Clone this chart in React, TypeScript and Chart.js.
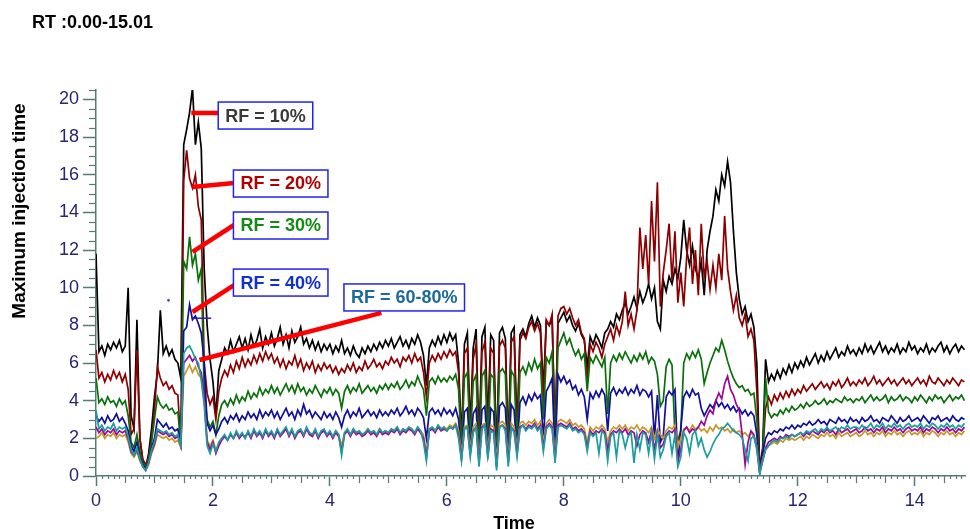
import React, { useEffect, useRef } from "react";
import { Chart, registerables } from "chart.js";
Chart.register(...registerables);

const TITLE = "RT :0.00-15.01";
const Y_TITLE = "Maximum injection time";
const X_TITLE = "Time";
const TIME_STEP = 0.05;
const X_TICKS = [0, 2, 4, 6, 8, 10, 12, 14];
const Y_TICKS = [0, 2, 4, 6, 8, 10, 12, 14, 16, 18, 20];

const RF10 = [
  11.8,6.6,6.9,6.4,7.0,6.7,7.1,6.8,7.2,6.6,6.9,10.0,3.2,2.5,8.3,2.0,0.8,0.4,1.2,2.5,
  4.2,5.5,8.8,6.5,6.9,6.4,6.7,6.2,6.0,5.2,17.6,18.4,19.3,20.6,17.6,18.8,17.4,11.0,8.0,6.2,
  5.0,3.2,5.6,6.2,6.8,6.5,7.2,6.6,7.0,7.4,6.8,7.3,6.7,7.5,6.9,7.2,7.8,6.8,7.4,7.0,
  7.6,6.9,7.3,7.9,7.0,7.5,6.8,7.7,7.1,7.4,7.9,7.0,7.3,6.8,7.2,6.7,7.1,6.6,7.0,6.7,
  7.0,6.5,6.9,6.6,7.2,6.5,6.8,6.4,6.9,6.5,6.3,6.8,6.5,6.9,6.6,7.0,6.7,7.1,6.8,7.2,
  6.9,7.3,6.8,7.1,7.4,6.9,7.2,6.8,7.3,7.0,7.5,7.1,6.4,4.8,6.8,7.2,6.9,7.4,7.0,7.5,
  7.1,7.6,7.2,7.5,6.0,1.8,7.0,7.6,2.5,6.8,7.8,1.6,7.4,7.9,2.8,7.5,7.2,1.2,7.6,7.9,
  7.3,1.5,7.6,7.9,2.2,7.5,7.8,7.4,8.1,8.5,7.9,8.4,8.0,4.5,8.2,8.0,8.3,2.0,8.1,8.4,
  8.7,8.2,8.5,8.0,7.7,8.1,7.5,7.2,5.8,7.4,7.0,7.5,7.2,6.8,7.6,7.8,8.2,7.9,8.6,8.3,
  8.8,9.2,8.6,9.0,9.5,8.9,9.8,9.2,9.6,10.2,9.4,10.0,8.2,7.8,10.4,9.8,10.6,10.2,11.0,10.5,
  11.6,13.6,12.0,11.2,12.2,11.0,10.5,11.4,9.6,12.0,13.0,13.8,15.2,14.6,16.0,15.4,16.7,15.6,13.0,10.8,
  9.4,8.6,9.0,8.2,8.6,7.9,6.0,0.3,1.5,6.2,5.0,5.4,5.1,5.6,5.2,5.7,5.4,5.9,5.5,6.0,
  5.7,6.1,5.8,6.3,5.9,6.2,6.5,6.0,6.4,6.1,6.6,6.2,6.5,6.8,6.3,6.6,6.4,6.9,6.5,6.7,
  6.4,6.8,6.5,7.0,6.6,6.9,6.5,6.8,7.1,6.6,6.9,6.5,6.8,6.6,7.0,6.5,6.8,6.6,7.1,6.7,
  6.9,6.5,6.8,6.6,7.0,6.5,6.8,6.6,6.9,7.1,6.6,6.9,6.5,6.8,7.0,6.6,6.9,6.7,
];

const RF20 = [
  6.7,5.2,5.5,5.0,5.4,5.1,5.6,5.2,5.5,5.0,5.4,4.6,2.2,2.5,6.7,2.0,0.9,0.6,1.0,2.0,
  3.5,5.8,5.2,4.8,5.0,4.6,4.8,4.4,4.3,1.7,15.7,17.3,15.8,15.3,16.0,14.3,13.6,6.0,4.4,3.8,
  4.2,3.0,4.5,5.2,5.6,5.3,5.9,5.5,6.1,5.7,6.3,5.8,6.2,5.9,6.4,6.0,6.5,6.1,6.6,6.2,
  6.5,6.0,6.3,5.8,6.2,5.7,6.1,5.9,6.4,5.8,6.2,5.6,6.0,5.7,6.1,5.5,5.9,5.6,6.0,5.7,
  5.9,5.5,5.8,5.4,5.7,5.5,5.9,5.6,6.0,5.5,5.8,5.6,6.1,5.7,5.9,6.2,5.8,6.0,5.7,6.1,
  5.9,6.3,6.0,6.2,5.8,6.3,6.1,6.4,6.0,6.5,6.1,6.3,5.5,4.2,6.0,6.4,6.1,6.5,6.2,6.6,
  6.3,6.7,6.4,6.6,5.5,1.4,6.5,6.8,2.0,6.2,7.0,1.2,6.6,7.1,2.2,6.8,6.5,0.9,6.9,7.2,
  6.8,1.2,7.1,7.4,1.8,7.2,7.6,7.3,7.9,8.2,7.7,8.1,7.6,3.8,8.3,8.0,8.6,1.6,8.5,8.9,
  9.0,8.6,8.9,8.4,8.0,8.3,7.6,7.3,5.0,7.0,6.6,7.1,6.8,6.3,7.0,7.4,7.8,7.2,8.0,7.5,
  8.2,9.8,8.0,8.6,7.8,8.8,13.2,11.0,12.8,10.2,14.6,11.4,15.6,9.0,10.8,12.0,13.4,10.4,13.0,9.2,
  10.8,9.0,11.6,13.2,10.2,12.0,9.6,13.4,10.6,11.4,9.9,11.2,10.0,11.8,10.4,13.8,11.0,9.8,8.8,9.6,
  8.4,8.0,8.6,7.4,7.8,7.2,4.5,0.4,1.2,3.6,4.2,3.8,4.3,4.0,4.4,4.1,4.5,4.2,4.6,4.3,
  4.6,4.4,4.8,4.5,4.7,4.9,4.6,4.8,5.0,4.7,4.9,4.6,5.0,4.8,5.1,4.7,4.9,5.2,4.8,5.0,
  4.8,5.1,4.9,5.2,4.8,5.0,5.3,4.9,5.1,4.8,5.0,5.2,4.9,5.1,4.8,5.0,5.2,4.9,5.1,4.8,
  5.0,5.2,4.9,5.1,4.8,5.3,5.0,4.9,5.2,5.0,4.8,5.1,4.9,5.2,5.0,4.8,5.1,5.0,
];

const RF30 = [
  5.2,3.9,4.1,3.8,4.2,3.9,4.0,3.7,4.1,3.8,4.0,3.2,1.8,1.5,2.2,1.3,0.7,0.5,0.9,1.8,
  3.0,4.2,3.8,3.6,3.8,3.5,3.6,3.3,3.4,1.7,11.4,11.0,12.7,11.2,11.8,10.4,11.0,4.5,3.0,2.6,
  2.9,2.2,3.2,3.8,4.0,3.7,4.1,3.8,4.3,3.9,4.2,4.0,4.5,4.1,4.4,4.2,4.7,4.3,4.6,4.4,
  4.8,4.4,4.7,4.3,4.6,4.9,4.5,4.8,4.4,4.9,4.5,4.7,4.3,4.6,4.4,4.8,4.5,4.2,4.6,4.4,
  4.7,4.3,4.6,4.4,3.6,4.5,4.8,4.4,4.7,4.5,4.9,4.4,4.6,4.8,4.5,4.7,4.4,4.8,4.6,4.9,
  4.6,4.9,4.7,5.0,4.6,4.8,5.1,4.7,5.0,4.8,5.3,4.9,4.6,3.2,5.0,5.2,4.9,5.3,5.0,5.2,
  5.0,5.3,5.1,5.4,4.6,1.3,5.2,5.5,1.8,5.0,5.4,1.0,5.3,5.6,1.9,5.4,5.2,0.8,5.5,5.7,
  5.4,1.0,5.6,5.3,1.6,5.5,5.8,5.4,6.0,5.6,6.2,5.7,6.0,3.0,6.3,6.0,6.6,1.5,6.8,7.2,
  7.6,7.0,7.3,6.8,6.4,6.7,6.2,6.5,4.5,6.3,6.0,6.4,6.1,5.8,6.3,3.3,6.0,6.4,6.1,6.5,
  6.2,6.6,6.3,6.0,6.4,6.1,6.5,6.2,6.6,6.0,6.3,6.1,5.4,3.7,4.0,5.8,6.2,5.9,2.2,1.9,
  2.4,6.0,6.5,6.2,6.6,6.3,6.7,6.2,4.9,5.5,6.0,6.4,6.8,6.6,7.2,6.7,6.1,5.6,5.2,4.9,
  4.7,4.8,4.5,4.6,4.3,4.4,3.0,0.3,1.0,5.2,3.4,3.1,3.3,3.2,3.5,3.3,3.6,3.4,3.7,3.5,
  3.6,3.8,3.6,3.9,3.7,3.8,4.0,3.8,3.9,4.1,3.8,4.0,3.9,4.1,4.0,3.9,4.2,4.0,4.1,3.9,
  4.1,4.0,4.2,3.9,4.1,4.3,4.0,4.2,4.0,4.1,4.3,3.9,4.2,4.0,4.1,4.3,4.0,4.2,4.1,3.9,
  4.2,4.0,4.3,4.1,3.9,4.2,4.0,4.3,4.1,4.2,3.9,4.1,4.3,4.0,4.2,4.1,4.3,4.0,
];

const RF40 = [
  3.2,2.9,3.1,2.8,3.2,2.9,3.0,3.3,2.9,3.1,2.8,2.4,1.6,1.3,1.8,1.0,0.6,0.4,0.8,1.5,
  2.0,3.0,2.8,2.6,2.8,2.5,2.6,2.4,2.5,1.6,7.7,7.9,9.1,8.3,8.5,8.1,7.6,6.0,2.8,2.4,
  2.7,2.2,2.5,2.9,3.1,2.8,3.2,3.0,3.3,2.9,3.2,3.0,3.4,3.1,3.3,3.0,3.5,3.1,3.4,3.2,
  3.5,3.1,3.4,3.0,3.3,3.6,3.2,3.4,3.0,3.5,3.2,3.8,3.3,3.5,3.1,3.4,3.2,3.0,3.4,3.1,
  3.3,3.0,3.4,3.1,2.6,3.2,3.5,3.1,3.4,3.2,3.6,3.1,3.3,3.5,3.2,3.4,3.1,3.5,3.2,3.4,
  3.2,3.5,3.3,3.6,3.2,3.4,3.7,3.3,3.5,3.2,3.6,3.4,3.1,2.0,3.4,3.6,3.3,3.5,3.2,3.6,
  3.3,3.5,3.2,3.6,3.0,1.0,3.4,3.6,1.3,3.3,3.6,0.8,3.5,3.7,1.2,3.6,3.4,0.5,3.7,3.9,
  3.6,0.8,3.8,3.5,1.2,3.9,4.2,3.8,4.3,4.0,4.4,4.1,4.3,2.0,4.5,4.8,5.2,1.0,5.4,5.0,
  5.3,4.9,5.1,4.6,4.8,4.3,4.6,4.2,3.0,4.4,4.1,4.5,4.2,4.6,4.3,2.4,4.4,4.7,4.3,4.6,
  4.4,4.7,4.3,4.6,4.4,4.8,4.3,4.6,4.5,4.2,4.5,2.0,4.3,1.8,2.1,4.2,4.5,4.3,4.6,0.7,
  2.5,4.2,4.5,4.2,4.6,4.3,4.4,3.6,3.2,3.5,3.8,3.6,4.0,3.7,3.9,3.6,3.8,3.5,3.7,3.4,
  3.6,3.3,3.5,3.2,3.4,3.2,2.2,0.2,1.2,2.0,2.3,2.2,2.4,2.3,2.5,2.4,2.6,2.5,2.7,2.5,
  2.7,2.6,2.8,2.7,2.9,2.7,2.8,3.0,2.8,2.9,2.7,3.0,2.9,2.8,3.1,2.9,3.0,2.8,3.1,2.9,
  3.0,2.8,3.1,2.9,3.0,3.2,2.9,3.0,2.8,3.1,3.0,2.9,3.2,3.0,2.8,3.1,2.9,3.0,3.2,2.9,
  3.0,3.1,2.9,3.2,3.0,2.8,3.1,3.0,3.2,2.9,3.0,3.1,2.9,3.2,3.0,2.9,3.1,3.0,
];

const RF60 = [
  2.0,2.1,2.3,2.0,2.2,2.1,2.3,2.0,2.2,2.1,2.2,1.8,1.2,1.0,1.3,0.8,0.5,0.3,0.6,1.2,
  1.6,2.2,2.1,2.0,2.1,1.9,2.0,1.8,1.9,1.5,5.3,5.6,5.9,5.5,5.8,5.4,5.2,4.0,1.9,1.6,
  1.9,1.4,1.7,2.0,2.1,1.9,2.2,2.0,2.3,2.1,2.2,2.0,2.3,2.1,2.4,2.2,2.3,2.1,2.4,2.2,
  2.3,2.1,2.4,2.2,2.3,2.5,2.2,2.4,2.1,2.3,2.4,2.2,2.5,2.3,2.2,2.4,2.1,2.3,2.4,2.2,
  2.3,2.1,2.4,2.2,1.6,2.3,2.4,2.2,2.5,2.3,2.4,2.2,2.3,2.5,2.3,2.4,2.2,2.5,2.3,2.4,
  2.3,2.5,2.4,2.6,2.3,2.5,2.4,2.6,2.5,2.3,2.6,2.4,2.2,1.2,2.5,2.6,2.4,2.7,2.5,2.6,
  2.5,2.7,2.6,2.8,2.4,1.2,2.6,2.7,1.5,2.6,2.8,1.0,2.7,2.8,1.4,2.7,2.6,0.8,2.8,2.9,
  2.7,1.0,2.8,2.6,1.5,2.8,2.9,2.7,2.9,2.8,3.0,2.7,2.9,1.8,2.8,3.0,2.8,1.2,2.9,3.0,
  2.9,2.8,3.0,2.7,2.8,2.6,2.7,2.5,1.8,2.6,2.4,2.6,2.5,2.7,2.5,1.8,2.4,2.6,2.5,2.7,
  2.5,2.7,2.4,2.6,2.5,2.7,2.4,2.6,2.5,2.3,2.6,2.0,2.5,2.2,2.0,2.4,2.6,2.5,2.7,1.5,
  2.0,2.5,2.6,2.4,2.7,2.5,2.6,2.4,2.5,2.3,2.6,2.4,2.7,2.5,2.6,2.4,2.5,2.3,2.5,2.3,
  2.4,2.2,2.3,2.1,2.3,2.1,1.6,0.2,0.9,1.4,1.6,1.7,1.8,1.7,1.9,1.8,2.0,1.9,2.0,1.9,
  2.0,2.1,1.9,2.1,2.0,2.2,2.1,2.0,2.2,2.1,2.3,2.1,2.2,2.0,2.3,2.1,2.2,2.3,2.1,2.2,
  2.3,2.1,2.2,2.4,2.2,2.3,2.1,2.3,2.2,2.4,2.1,2.3,2.2,2.4,2.2,2.3,2.1,2.3,2.4,2.2,
  2.3,2.2,2.4,2.1,2.3,2.2,2.4,2.3,2.1,2.3,2.2,2.4,2.2,2.3,2.1,2.3,2.2,2.4,
];

const RF70 = [
  2.6,2.3,2.5,2.2,2.4,2.3,2.5,2.2,2.4,2.3,2.4,2.0,1.3,1.1,1.4,0.9,0.5,0.3,0.7,1.3,
  1.7,2.4,2.3,2.2,2.3,2.1,2.2,2.0,2.1,1.6,6.0,6.2,6.4,6.1,6.3,5.8,5.5,4.2,1.8,1.4,
  1.8,1.2,1.6,1.9,2.1,1.9,2.2,2.0,2.3,2.0,2.2,2.1,2.3,2.0,2.4,2.1,2.3,2.0,2.4,2.1,
  2.3,2.0,2.4,2.1,2.3,2.5,2.1,2.4,2.0,2.3,2.4,2.1,2.5,2.2,2.1,2.4,2.0,2.3,2.4,2.1,
  2.3,2.0,2.3,2.1,1.3,2.2,2.4,2.1,2.4,2.2,2.3,2.1,2.2,2.4,2.2,2.3,2.1,2.4,2.2,2.3,
  2.2,2.4,2.3,2.5,2.2,2.4,2.3,2.5,2.4,2.2,2.5,2.3,2.0,1.0,2.4,2.5,2.3,2.6,2.4,2.5,
  2.4,2.6,2.5,2.7,2.2,0.9,2.5,2.6,1.2,2.4,2.6,0.7,2.6,2.7,1.1,2.5,2.4,0.5,2.6,2.7,
  2.5,0.7,2.6,2.4,1.2,2.6,2.7,2.5,2.7,2.6,2.8,2.5,2.7,1.5,2.6,2.8,2.6,0.9,2.7,2.8,
  2.7,2.6,2.8,2.5,2.6,2.4,2.5,2.3,1.5,2.4,2.2,2.4,2.3,2.5,2.3,1.4,2.2,2.4,2.3,2.5,
  2.3,2.5,2.2,2.4,2.3,1.6,2.2,2.4,2.3,1.8,2.4,1.4,2.3,1.5,1.7,2.2,2.4,2.3,2.5,0.8,
  1.4,2.4,2.6,2.3,2.5,2.4,2.6,2.9,2.7,3.2,3.5,3.3,4.0,4.4,4.1,4.9,5.3,4.6,4.3,3.8,
  3.5,2.2,0.6,1.8,2.4,2.2,1.5,0.2,0.8,1.5,1.8,1.9,2.0,1.9,2.1,2.0,2.2,2.1,2.2,2.1,
  2.2,2.3,2.1,2.3,2.2,2.4,2.3,2.2,2.4,2.3,2.5,2.3,2.4,2.2,2.5,2.3,2.4,2.5,2.3,2.4,
  2.5,2.3,2.4,2.6,2.4,2.5,2.3,2.5,2.4,2.6,2.3,2.5,2.4,2.6,2.4,2.5,2.3,2.5,2.6,2.4,
  2.5,2.4,2.6,2.3,2.5,2.4,2.6,2.5,2.3,2.5,2.4,2.6,2.4,2.5,2.3,2.5,2.4,2.6,
];

const RF80 = [
  3.5,2.5,2.7,2.4,2.6,2.5,2.8,2.4,2.6,2.5,2.6,2.1,1.4,1.1,1.5,0.9,0.5,0.3,0.7,1.4,
  1.8,2.5,2.4,2.3,2.4,2.2,2.3,2.1,2.2,1.6,6.5,6.8,6.9,6.6,6.2,6.0,5.1,3.8,1.6,1.2,
  1.7,1.3,1.8,2.0,2.2,1.9,2.3,2.0,2.4,2.1,2.3,2.0,2.4,2.1,2.5,2.2,2.4,2.1,2.5,2.2,
  2.4,2.1,2.5,2.2,2.4,2.6,2.2,2.5,2.1,2.4,2.5,2.2,2.6,2.3,2.2,2.5,2.1,2.4,2.5,2.2,
  2.4,2.1,2.4,2.2,1.1,2.3,2.5,2.2,2.5,2.3,2.4,2.2,2.3,2.5,2.3,2.4,2.2,2.5,2.3,2.4,
  2.3,2.5,2.4,2.6,2.3,2.5,2.4,2.6,2.5,2.3,2.6,2.4,1.8,0.8,2.5,2.6,2.4,2.7,2.5,2.6,
  2.4,2.6,2.5,2.7,2.0,0.8,2.5,2.6,1.0,2.3,2.6,0.5,2.5,2.7,0.9,2.4,2.3,0.3,2.6,2.7,
  2.4,0.5,2.6,2.3,1.0,2.5,2.7,2.4,2.6,2.5,2.7,2.4,2.6,1.3,2.5,2.7,2.5,0.7,2.6,2.7,
  2.6,2.5,2.7,2.4,2.5,2.3,2.4,2.2,1.3,2.3,2.1,2.3,1.2,2.4,2.2,0.8,2.1,2.3,1.0,2.4,
  2.2,1.5,2.1,2.3,0.7,2.2,1.4,2.3,2.2,1.2,2.3,0.9,2.2,1.0,1.4,2.1,2.3,1.2,2.2,0.5,
  1.0,2.3,2.0,1.2,2.2,2.4,1.6,2.0,1.4,1.0,1.3,1.7,2.0,2.2,2.5,2.6,2.8,2.6,2.4,2.3,
  2.2,2.0,1.4,0.8,2.0,2.1,1.4,0.1,0.8,1.4,1.6,1.8,1.9,1.8,2.0,2.0,2.1,2.0,2.2,2.1,
  2.2,2.3,2.2,2.4,2.3,2.4,2.5,2.3,2.5,2.4,2.6,2.4,2.5,2.6,2.4,2.6,2.5,2.7,2.5,2.6,
  2.6,2.5,2.7,2.5,2.6,2.8,2.5,2.7,2.6,2.8,2.5,2.7,2.6,2.8,2.6,2.7,2.5,2.7,2.8,2.6,
  2.7,2.6,2.8,2.5,2.7,2.6,2.8,2.7,2.5,2.7,2.6,2.8,2.6,2.7,2.5,2.7,2.6,2.8,
];

// small stray blue marks near the RF = 40% peak
const MARK_X = [1.63, 1.97];
const MARK_Y = [8.38, 8.38];
const DOT_X = [1.24];
const DOT_Y = [9.33];

const SERIES = [
  { name: "RF 10%", values: RF10, color: "#000000", order: 7 },
  { name: "RF 20%", values: RF20, color: "#8e0000", order: 6 },
  { name: "RF 30%", values: RF30, color: "#0a700a", order: 5 },
  { name: "RF 40%", values: RF40, color: "#10109a", order: 4 },
  { name: "RF 60%", values: RF60, color: "#c9962a", order: 3 },
  { name: "RF 70%", values: RF70, color: "#9a089a", order: 2 },
  { name: "RF 80%", values: RF80, color: "#1c9c9c", order: 1 },
];

const ANNOTATIONS = [
  { text: "RF = 10%", color: "#3a3a3a", from: [1.63, 19.28], to: [2.14, 19.28], box: [2.09, 19.86] },
  { text: "RF = 20%", color: "#b00000", from: [1.65, 15.35], to: [2.36, 15.56], box: [2.35, 16.25] },
  { text: "RF = 30%", color: "#148a14", from: [1.65, 11.9], to: [2.36, 13.33], box: [2.35, 14.02] },
  { text: "RF = 40%", color: "#1030d0", from: [1.65, 8.71], to: [2.36, 10.14], box: [2.35, 10.99] },
  { text: "RF = 60-80%", color: "#1a6a9e", from: [1.77, 6.16], to: [4.88, 8.66], box: [4.24, 10.2] },
];

const AXIS_COLOR = "#557a78";
const TICK_TEXT = "#262673";
const FONT = "'Liberation Sans', Arial, sans-serif";

const decorPlugin = {
  id: "decor",
  afterDatasetsDraw(chart: any) {
    const { ctx, scales } = chart;
    const xs = scales.x, ys = scales.y;
    ctx.save();
    ctx.strokeStyle = "#ff0000";
    ctx.lineWidth = 4.5;
    ctx.lineCap = "butt";
    for (const a of ANNOTATIONS) {
      ctx.beginPath();
      ctx.moveTo(xs.getPixelForValue(a.from[0]), ys.getPixelForValue(a.from[1]));
      ctx.lineTo(xs.getPixelForValue(a.to[0]), ys.getPixelForValue(a.to[1]));
      ctx.stroke();
    }
    ctx.font = `bold 18px ${FONT}`;
    for (const a of ANNOTATIONS) {
      const bx = xs.getPixelForValue(a.box[0]);
      const by = ys.getPixelForValue(a.box[1]);
      const w = ctx.measureText(a.text).width + 14;
      const h = 27;
      ctx.fillStyle = "#ffffff";
      ctx.fillRect(bx, by, w, h);
      ctx.strokeStyle = "#2222ee";
      ctx.lineWidth = 1.5;
      ctx.strokeRect(bx, by, w, h);
      ctx.fillStyle = a.color;
      ctx.textBaseline = "middle";
      ctx.textAlign = "left";
      ctx.fillText(a.text, bx + 7, by + h / 2 + 1);
    }
    ctx.restore();
  },
  afterDraw(chart: any) {
    const { ctx, scales, chartArea } = chart;
    const xs = scales.x, ys = scales.y;
    ctx.save();
    ctx.strokeStyle = AXIS_COLOR;
    ctx.lineWidth = 1.2;
    for (let k = 0; k * 0.5 <= ys.max + 1e-9; k++) {
      if (k % 4 === 0) continue;
      const y = Math.round(ys.getPixelForValue(k * 0.5)) + 0.5;
      ctx.beginPath();
      ctx.moveTo(chartArea.left - 7, y);
      ctx.lineTo(chartArea.left, y);
      ctx.stroke();
    }
    for (let k = 0; k * 0.1 <= xs.max + 1e-9; k++) {
      if (k % 20 === 0) continue;
      const len = k % 5 === 0 ? 7 : 3;
      const x = Math.round(xs.getPixelForValue(k * 0.1)) + 0.5;
      ctx.beginPath();
      ctx.moveTo(x, chartArea.bottom);
      ctx.lineTo(x, chartArea.bottom + len);
      ctx.stroke();
    }
    ctx.fillStyle = "#000000";
    ctx.font = `bold 18px ${FONT}`;
    ctx.textAlign = "left";
    ctx.textBaseline = "alphabetic";
    ctx.fillText(TITLE, 32, 28);
    ctx.textAlign = "center";
    ctx.fillText(X_TITLE, 514, 529);
    ctx.translate(25, 211);
    ctx.rotate(-Math.PI / 2);
    ctx.font = `bold 19px ${FONT}`;
    ctx.fillText(Y_TITLE, 0, 0);
    ctx.restore();
  },
};

export default function App() {
  const ref = useRef<HTMLCanvasElement>(null);
  useEffect(() => {
    if (!ref.current) return;
    const times = RF10.map((_, i) => +(i * TIME_STEP).toFixed(2));
    const datasets: any[] = SERIES.map((s) => ({
      label: s.name,
      data: s.values.map((v, i) => ({ x: times[i], y: v })),
      borderColor: s.color,
      backgroundColor: s.color,
      borderWidth: 1.7,
      pointRadius: 0,
      tension: 0,
      order: s.order,
    }));
    datasets.push({
      label: "mark",
      data: MARK_X.map((x, i) => ({ x, y: MARK_Y[i] })),
      borderColor: "#2020c0",
      borderWidth: 1.5,
      pointRadius: 0,
      order: 0,
    });
    datasets.push({
      label: "dot",
      data: DOT_X.map((x, i) => ({ x, y: DOT_Y[i] })),
      borderColor: "#4040e0",
      backgroundColor: "#4040e0",
      showLine: false,
      pointRadius: 1,
      order: 0,
    });
    const chart = new Chart(ref.current, {
      type: "line",
      data: { datasets },
      options: {
        animation: false,
        responsive: false,
        devicePixelRatio: 1,
        layout: { padding: { top: 90, left: 0, right: 1, bottom: 0 } },
        plugins: { legend: { display: false }, tooltip: { enabled: false }, title: { display: false } },
        scales: {
          x: {
            type: "linear",
            min: 0,
            max: 14.86,
            afterBuildTicks: (s: any) => { s.ticks = X_TICKS.map((v) => ({ value: v })); },
            afterFit: (s: any) => { s.height = 53; },
            border: { display: true, color: AXIS_COLOR, width: 1.5 },
            grid: { display: true, drawOnChartArea: false, drawTicks: true, tickLength: 10, tickColor: AXIS_COLOR, tickWidth: 1.5 },
            ticks: { color: TICK_TEXT, font: { size: 18, family: FONT }, padding: 4, maxRotation: 0, autoSkip: false },
          },
          y: {
            type: "linear",
            min: 0,
            max: 20.5,
            afterBuildTicks: (s: any) => { s.ticks = Y_TICKS.map((v) => ({ value: v })); },
            afterFit: (s: any) => { s.width = 96; },
            border: { display: true, color: AXIS_COLOR, width: 1.5 },
            grid: { display: true, drawOnChartArea: false, drawTicks: true, tickLength: 13, tickColor: AXIS_COLOR, tickWidth: 1.5 },
            ticks: { color: TICK_TEXT, font: { size: 18, family: FONT }, padding: 4, autoSkip: false },
          },
        },
      },
      plugins: [decorPlugin],
    });
    return () => chart.destroy();
  }, []);
  return (
    <canvas
      ref={ref}
      width={970}
      height={529}
      style={{ position: "absolute", left: 0, top: 0, width: 970, height: 529 }}
    />
  );
}
